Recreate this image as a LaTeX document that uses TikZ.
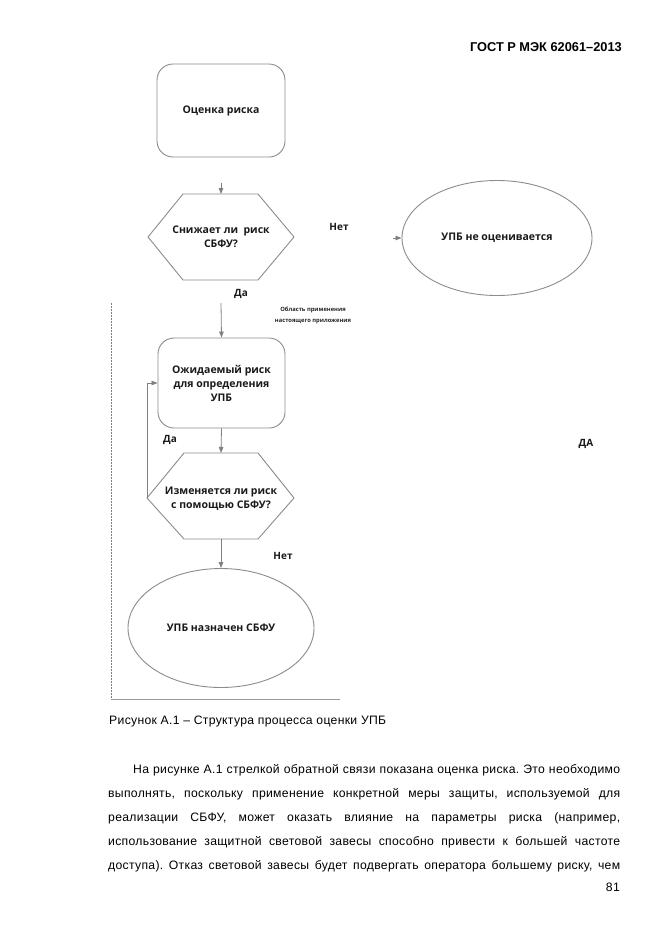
\documentclass[tikz,border=0pt]{standalone}
\usepackage{fontspec}
\setmainfont{Liberation Sans}
\newfontfamily\diafont{Open Sans}
\newfontfamily\bodyfont[LetterSpace=2.5]{Liberation Sans}
\usetikzlibrary{arrows.meta,shapes.geometric}
\begin{document}
\frenchspacing
\begin{tikzpicture}[x=1pt,y=-1pt,
  shapeline/.style={draw=black!45, line width=0.9pt},
  dtext/.style={font=\diafont\bfseries\fontsize{10.5}{14}\selectfont, align=center, text=black!90},
  conn/.style={draw=black!50, line width=0.8pt, -{Triangle[length=6pt,width=4.5pt]}},
  lbl/.style={font=\diafont\bfseries\fontsize{10}{12}\selectfont, text=black!90},
  body/.style={font=\bodyfont\fontsize{12.2}{15}\selectfont, anchor=base west, inner sep=0pt}
]
\useasboundingbox (0,0) rectangle (661,935);
\fill[white] (0,0) rectangle (661,935);

% header
\node[anchor=base east, font=\bfseries\fontsize{12.8}{15}\selectfont, inner sep=0pt] (hdr) at (622,51) {ГОСТ Р МЭК 62061–2013};

% box 1
\node[shapeline, rounded corners=16pt, minimum width=128pt, minimum height=93pt, dtext] (b1) at (221,110.5) {Оценка риска};

% hexagon 1
\coordinate (h1t) at (221,194);
\coordinate (h1b) at (221,280);
\coordinate (h1l) at (148,237);
\coordinate (h1r) at (294,237);
\draw[shapeline] (183,194) -- (258,194) -- (h1r) -- (258,280) -- (183,280) -- (h1l) -- cycle;
\node[dtext] (h1) at (221,237) {Снижает ли\ \ риск\\СБФУ?};
\coordinate (a1s) at (221,183);
\draw[conn] (a1s) -- (h1t);

% ellipse right
\node[shapeline, ellipse, minimum width=190pt, minimum height=115pt, dtext] (e1) at (497,238) {УПБ не оценивается};
\coordinate (a2s) at (393,238);
\draw[conn] (a2s) -- (e1.west);

\node[lbl] (net1) at (339,227) {Нет};
\node[lbl] (da1) at (241,294) {Да};

% box 2
\node[shapeline, rounded corners=16pt, minimum width=127pt, minimum height=90pt, dtext] (b2) at (221.5,383) {Ожидаемый риск\\для определения\\УПБ};
\coordinate (a3s) at (221,303);
\draw[conn] (a3s) -- (b2.north);

\node[font=\diafont\bfseries\fontsize{5.8}{10.5}\selectfont, text=black!85, align=center] (scope) at (313,315.5) {Область применения\\настоящего приложения};

% hexagon 2
\coordinate (h2t) at (221,453);
\coordinate (h2b) at (221,539);
\coordinate (h2l) at (147,498);
\coordinate (h2r) at (294,498);
\draw[shapeline] (184,453) -- (258,453) -- (h2r) -- (258,539) -- (184,539) -- (h2l) -- cycle;
\node[dtext] (h2) at (221,499) {Изменяется ли риск\\с помощью СБФУ?};
\draw[conn] (b2.south) -- (h2t);
\draw[conn] (h2l) |- (b2.west);

\node[lbl] (da2) at (170,440) {Да};
\node[lbl] (net2) at (283,556) {Нет};

% ellipse bottom
\node[shapeline, ellipse, minimum width=186pt, minimum height=119pt, dtext] (e2) at (221,628) {УПБ назначен СБФУ};
\draw[conn] (h2b) -- (e2.north);

\node[lbl] (da3) at (586,444) {ДА};

% scope frame
\draw[black!50, line width=0.8pt, dash pattern=on 1.5pt off 1.5pt] (111,303) -- (111,699);
\draw[black!40, line width=1pt] (111,699) -- (340,699);

% caption
\node[body] (cap) at (109,724) {Рисунок А.1 – Структура процесса оценки УПБ};

% paragraph
\node[body] (p1) at (133,773) {\makebox[487pt][s]{На рисунке А.1 стрелкой обратной связи показана оценка риска. Это необходимо}};
\node[body] (p2) at (108,797) {\makebox[512pt][s]{выполнять, поскольку применение конкретной меры защиты, используемой для}};
\node[body] (p3) at (108,821) {\makebox[512pt][s]{реализации СБФУ, может оказать влияние на параметры риска (например,}};
\node[body] (p4) at (108,845) {\makebox[512pt][s]{использование защитной световой завесы способно привести к большей частоте}};
\node[body] (p5) at (108,869) {\makebox[512pt][s]{доступа). Отказ световой завесы будет подвергать оператора большему риску, чем}};

\node[anchor=base east, font=\bodyfont\fontsize{12.2}{15}\selectfont, inner sep=0pt] (pg) at (620,891) {81};
\end{tikzpicture}
\end{document}
